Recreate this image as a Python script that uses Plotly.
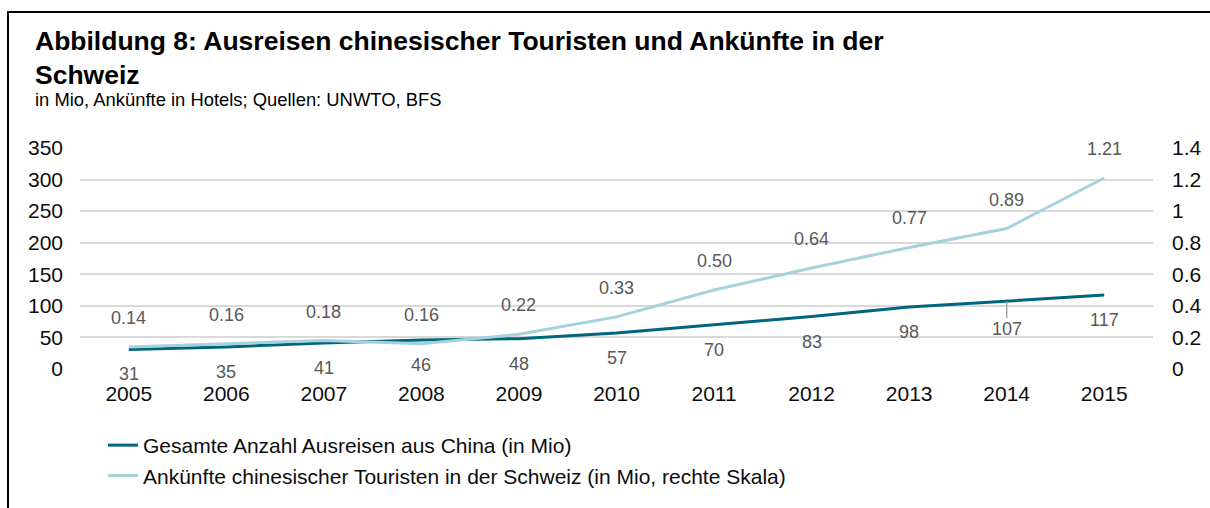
import plotly.graph_objects as go

# Chart data (in millions)
years = ["2005", "2006", "2007", "2008", "2009", "2010", "2011", "2012", "2013", "2014", "2015"]
outbound_china = [31, 35, 41, 46, 48, 57, 70, 83, 98, 107, 117]
arrivals_switzerland = [0.14, 0.16, 0.18, 0.16, 0.22, 0.33, 0.50, 0.64, 0.77, 0.89, 1.21]

left_ticks = [0, 50, 100, 150, 200, 250, 300, 350]
right_ticks = [0, 0.2, 0.4, 0.6, 0.8, 1.0, 1.2, 1.4]

name_outbound = "Gesamte Anzahl Ausreisen aus China (in Mio)"
name_arrivals = "Ankünfte chinesischer Touristen in der Schweiz (in Mio, rechte Skala)"
title_text = "<b>Abbildung 8: Ausreisen chinesischer Touristen und Ankünfte in der<br>Schweiz</b>"
subtitle_text = "in Mio, Ankünfte in Hotels; Quellen: UNWTO, BFS"

DARK = "#00657F"
LIGHT = "#A5D2DB"
LABEL_GREY = "#595959"
FONT = "Liberation Sans, Arial, sans-serif"

# Figure geometry (pixels)
W, H = 1210, 508
ML, MR, MT, MB = 80, 57, 148, 139
PW, PH = W - ML - MR, H - MT - MB


def px_x(x):
    return (x - ML) / PW


def px_y(y):
    return (H - MB - y) / PH


fig = go.Figure()

fig.add_trace(go.Scatter(
    x=years, y=arrivals_switzerland, name=name_arrivals, yaxis="y2",
    mode="lines", line=dict(color=LIGHT, width=3), legendrank=2,
))
fig.add_trace(go.Scatter(
    x=years, y=outbound_china, name=name_outbound, yaxis="y",
    mode="lines", line=dict(color=DARK, width=3), legendrank=1,
))

annotations = []
# value labels above the light line (category axis -> positional index)
for i, v in enumerate(arrivals_switzerland):
    annotations.append(dict(
        x=i, y=v, xref="x", yref="y2", text=f"{v:.2f}", showarrow=False,
        yshift=29, font=dict(family=FONT, size=18, color=LABEL_GREY),
    ))
# value labels below the dark line; 2014 gets a small leader line
leader_year = "2014"
for i, (yr, v) in enumerate(zip(years, outbound_china)):
    if yr == leader_year:
        annotations.append(dict(
            x=i, y=v, xref="x", yref="y", text=str(v), showarrow=True,
            ax=0, ay=28, arrowhead=0, arrowwidth=1.5, arrowcolor="#A6A6A6",
            standoff=0, font=dict(family=FONT, size=18, color=LABEL_GREY),
        ))
    else:
        annotations.append(dict(
            x=i, y=v, xref="x", yref="y", text=str(v), showarrow=False,
            yshift=-25, font=dict(family=FONT, size=18, color=LABEL_GREY),
        ))

# heading
annotations.append(dict(
    xref="paper", yref="paper", x=px_x(33), y=px_y(24), xanchor="left", yanchor="top",
    text=title_text, showarrow=False, align="left",
    font=dict(family=FONT, size=26.5, color="#000000"),
))
annotations.append(dict(
    xref="paper", yref="paper", x=px_x(33), y=px_y(87), xanchor="left", yanchor="top",
    text=subtitle_text, showarrow=False, align="left",
    font=dict(family=FONT, size=18.4, color="#000000"),
))

fig.update_layout(
    width=W, height=H,
    margin=dict(l=ML, r=MR, t=MT, b=MB, autoexpand=False),
    paper_bgcolor="white", plot_bgcolor="white",
    font=dict(family=FONT, color="#0D0D0D"),
    showlegend=True,
    legend=dict(
        x=px_x(103), y=px_y(425), xanchor="left", yanchor="top",
        orientation="v", font=dict(family=FONT, size=21, color="#0D0D0D"),
        bgcolor="rgba(0,0,0,0)", tracegroupgap=0,
    ),
    xaxis=dict(
        type="category", range=[-0.5, len(years) - 0.5],
        showgrid=False, zeroline=False, showline=False, ticks="",
        tickfont=dict(family=FONT, size=21, color="#0D0D0D"),
        ticklabelstandoff=10,
    ),
    yaxis=dict(
        range=[0, 350], tickvals=left_ticks, showgrid=True,
        gridcolor="#D9D9D9", gridwidth=1.5, zeroline=False, showline=False, ticks="",
        tickfont=dict(family=FONT, size=21, color="#0D0D0D"),
        ticklabelstandoff=16,
    ),
    yaxis2=dict(
        range=[0, 1.4], tickvals=right_ticks, overlaying="y", side="right",
        showgrid=False, zeroline=False, showline=False, ticks="",
        tickfont=dict(family=FONT, size=21, color="#0D0D0D"),
        ticklabelstandoff=18,
    ),
    annotations=annotations,
    shapes=[dict(
        type="rect", xref="paper", yref="paper",
        x0=px_x(8), x1=px_x(W + 20), y0=px_y(H + 20), y1=px_y(12),
        line=dict(color="#000000", width=2), fillcolor="rgba(0,0,0,0)", layer="above",
    )],
)

fig.write_html("out.html")
